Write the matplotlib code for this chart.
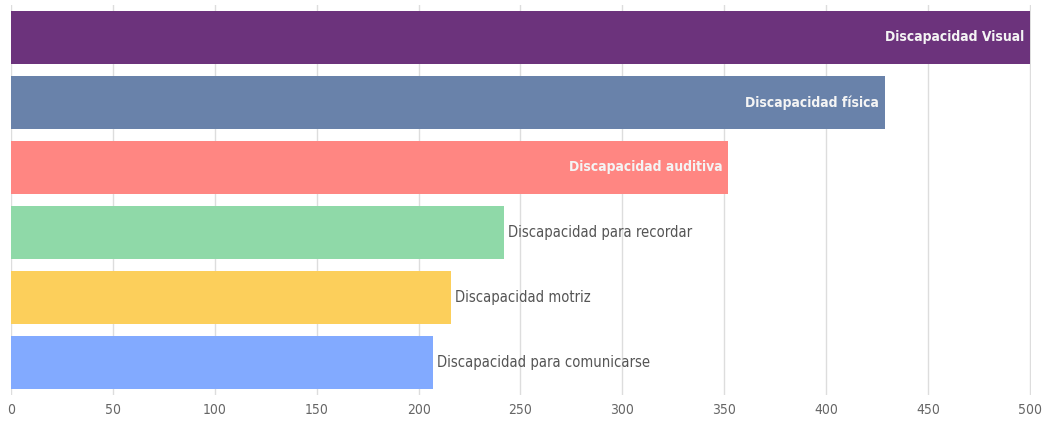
import matplotlib
matplotlib.use("Agg")
import matplotlib.pyplot as plt

categories = ["Discapacidad Visual", "Discapacidad física", "Discapacidad auditiva",
              "Discapacidad para recordar", "Discapacidad motriz", "Discapacidad para comunicarse"]
values = [500, 429, 352, 242, 216, 207]
colors = ["#6C337C", "#6982AA", "#FF8682", "#8FD9A8", "#FCCF5B", "#82AAFF"]
inside = [True, True, True, False, False, False]
xticks = [0, 50, 100, 150, 200, 250, 300, 350, 400, 450, 500]

fam = "DejaVu Sans"

fig = plt.figure(figsize=(10.44, 4.22), dpi=100)
ax = fig.add_axes([11/1044, 27/422, (1031-11)/1044, 390/422])
ypos = list(range(len(categories)))
ax.barh(ypos, values, height=0.815, color=colors, zorder=2)
ax.set_ylim(len(categories) - 0.5, -0.5)
ax.set_xlim(0, 500.5)
ax.set_yticks([])
ax.set_xticks(xticks)
ax.set_xticklabels([str(t) for t in xticks], fontsize=10, color="#666666",
                   family=fam, fontstretch="condensed")
ax.tick_params(axis="x", length=0, pad=6)
ax.grid(axis="x", color="#dddddd", linewidth=1, zorder=0)
for s in ax.spines.values():
    s.set_visible(False)

for y, v, c, ins in zip(ypos, values, categories, inside):
    if ins:
        ax.text(v - 3, y, c, ha="right", va="center", color="#f4f4f4", fontsize=10,
                fontweight="bold", family=fam, fontstretch="condensed", zorder=3)
    else:
        ax.text(v + 2, y, c, ha="left", va="center", color="#555555", fontsize=10.6,
                family=fam, fontstretch="condensed", zorder=3)

fig.savefig("out.png", dpi=100)
